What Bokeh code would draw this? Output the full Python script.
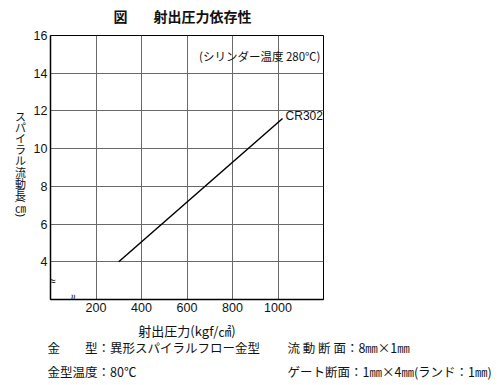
from bokeh.plotting import figure
from bokeh.layouts import column, row
from bokeh.models import Label, FixedTicker, Range1d
from bokeh.core.properties import value
from bokeh.embed import file_html
from bokeh.resources import INLINE

# ---- data ----
pressure = [300, 1020]          # kgf/cm2
flow_length = [4.0, 11.6]       # cm
series_name = "CR302"
x_ticks = [200, 400, 600, 800, 1000]
y_ticks = [4, 6, 8, 10, 12, 14, 16]
x_range = (0, 1200)
y_range = (2, 16)
x_break = 100
y_break = 3

title_mark = "図"
title_text = "射出圧力依存性"
x_label = "射出圧力(kgf/㎠)"
y_label = ["ス", "パ", "イ", "ラ", "ル", "流", "動", "長", "㎝"]
y_label_parens = ["(", ")"]
note = "(シリンダー温度 280℃)"
spec_left = ["金　　型：異形スパイラルフロー金型", "金型温度：80℃"]
spec_right = ["流 動 断 面：8㎜×1㎜", "ゲート断面：1㎜×4㎜(ランド：1㎜)"]

# ---- layout (pixels) ----
W, H = 500, 385
HEAD_H = 27
YL_W = 28
FL, FT, FW, FH = 50, 35, 273, 264          # frame in page coordinates
MAIN_BOTTOM = 319
FOOT_H = H - MAIN_BOTTOM
JP = "Noto Sans CJK JP"
LAT = "Liberation Sans"
INK = "#111111"


def canvas(w, h):
    f = figure(width=w, height=h, output_backend="svg", toolbar_location=None,
               x_range=Range1d(0, w), y_range=Range1d(h, 0),
               x_axis_location=None, y_axis_location=None, min_border=0)
    f.grid.visible = False
    f.outline_line_color = None
    f.background_fill_color = "white"
    f.border_fill_color = "white"
    return f


def put(f, xs, ys, texts, size="13px", font=JP, align="left", style="normal", angle=0):
    f.text(x=xs, y=ys, text=texts, text_font=value(font), text_font_size=size,
           text_align=align, text_baseline="middle", text_font_style=style,
           text_color=INK, angle=angle)


# ---- header (title) ----
head = canvas(W, HEAD_H)
put(head, [113, 153], [15, 15], [title_mark, title_text], size="14px", style="bold")

# ---- vertical y-axis label (upright characters, stacked) ----
yl = canvas(YL_W, MAIN_BOTTOM - HEAD_H)
char_y = [116, 128.3, 140.6, 152.9, 165.2, 177.5, 189.8, 202.1, 218]
put(yl, [20] * len(y_label), [v - HEAD_H for v in char_y], y_label, size="11px", align="center")
put(yl, [20, 20], [210 - HEAD_H, 226 - HEAD_H], y_label_parens, size="11px",
    font=LAT, align="center", angle=-1.5708)

# ---- main chart ----
p = figure(frame_width=FW, frame_height=FH, output_backend="svg", toolbar_location=None,
           x_range=Range1d(*x_range), y_range=Range1d(*y_range))
p.min_border_left = FL - YL_W
p.min_border_top = FT - HEAD_H
p.min_border_right = W - FL - FW
p.min_border_bottom = MAIN_BOTTOM - FT - FH
p.background_fill_color = "white"
p.border_fill_color = "white"
p.outline_line_color = "black"
p.outline_line_width = 1

for ax, ticks in ((p.xaxis[0], x_ticks), (p.yaxis[0], y_ticks)):
    ax.ticker = FixedTicker(ticks=ticks)
    ax.major_tick_line_color = None
    ax.major_tick_out = 0
    ax.major_tick_in = 0
    ax.minor_tick_line_color = None
    ax.axis_line_color = "black"
    ax.axis_line_width = 1.5
    ax.major_label_text_font = LAT
    ax.major_label_text_font_size = "12.5px"
    ax.major_label_text_color = INK
    ax.major_label_standoff = 3

p.xgrid.ticker = FixedTicker(ticks=x_ticks)
p.ygrid.ticker = FixedTicker(ticks=y_ticks)
p.grid.grid_line_color = "#6a6a6a"
p.grid.grid_line_width = 1

p.line(pressure, flow_length, line_color="black", line_width=1.5)

p.add_layout(Label(x=x_range[1], y=y_range[1], x_offset=-3, y_offset=-20, text=note,
                   text_font=JP, text_font_size="11.5px", text_align="right",
                   text_baseline="middle", text_color=INK))
p.add_layout(Label(x=pressure[-1], y=flow_length[-1], x_offset=3, y_offset=2, text=series_name,
                   text_font=LAT, text_font_size="12px", text_align="left",
                   text_baseline="middle", text_color=INK))

# axis break marks
p.add_layout(Label(x=x_range[0], y=y_break, x_offset=2, text="≈", text_font=LAT,
                   text_font_size="12px", text_align="center", text_baseline="middle",
                   text_color=INK))
p.add_layout(Label(x=x_break, y=y_range[0], y_offset=2, text="≈", text_font=LAT,
                   text_font_size="12px", text_align="center", text_baseline="middle",
                   angle=1.5708, text_color=INK))

# ---- footer (x label + specifications) ----
foot = canvas(W, FOOT_H)
put(foot, [FL + FW / 2], [330 - MAIN_BOTTOM], [x_label], size="13px", align="center")
put(foot, [47, 47], [347 - MAIN_BOTTOM, 371 - MAIN_BOTTOM], spec_left, size="12.5px")
put(foot, [287, 287], [347 - MAIN_BOTTOM, 371 - MAIN_BOTTOM], spec_right, size="12.5px")

layout = column(head, row(yl, p, spacing=0), foot, spacing=0)
open("out.html", "w").write(file_html(layout, INLINE))
